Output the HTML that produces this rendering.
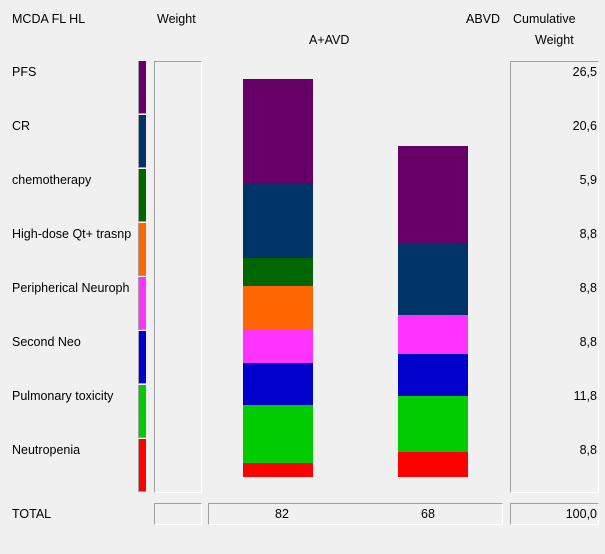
<!DOCTYPE html>
<html><head><meta charset="utf-8"><style>
body{margin:0;width:605px;height:554px;background:#f0f0f0;font-family:"Liberation Sans",sans-serif;font-size:12.5px;color:#000;position:relative;overflow:hidden}
.t{position:absolute;white-space:nowrap}
.box{position:absolute;border-top:1px solid #a0a0a0;border-left:1px solid #a0a0a0;border-bottom:1px solid #fff;border-right:1px solid #fff;box-sizing:border-box}
</style></head><body>
<div class="t" style="left:12px;top:12px">MCDA FL HL</div>
<div class="t" style="left:157px;top:12px">Weight</div>
<div class="t" style="left:309px;top:33px">A+AVD</div>
<div class="t" style="left:466px;top:12px">ABVD</div>
<div class="t" style="left:513px;top:12px">Cumulative</div>
<div class="t" style="left:535px;top:33px">Weight</div>
<div class="box" style="left:154px;top:61px;width:48px;height:432px"></div>
<div class="box" style="left:510px;top:61px;width:89px;height:432px"></div>
<div class="box" style="left:154px;top:503px;width:48px;height:22px"></div>
<div class="box" style="left:208px;top:503px;width:295px;height:22px"></div>
<div class="box" style="left:510px;top:503px;width:89px;height:22px"></div>
<div class="t" style="left:12px;top:507px">TOTAL</div>
<div class="t" style="left:275px;top:507px">82</div>
<div class="t" style="left:421px;top:507px">68</div>
<div class="t" style="right:8px;top:507px">100,0</div>
<div id="root"></div>
<script>
const criteria=["PFS","CR","chemotherapy","High-dose Qt+ trasnp","Peripherical Neuroph","Second Neo","Pulmonary toxicity","Neutropenia"];
const weights=["26,5","20,6","5,9","8,8","8,8","8,8","11,8","8,8"];
const colors=["#660066","#003366","#006600","#ff6600","#ff33ff","#0000cc","#00cc00","#ff0000"];
const aavd=[21.6,15.2,5.8,8.9,7.0,8.7,11.9,2.9];
const abvd=[20.2,14.6,0,0,8.0,8.7,11.5,5.2];
const root=document.getElementById('root');
const baseY=477, pxPer=398/82;
function y(v){return v*pxPer;}
criteria.forEach((c,i)=>{
  const top=61+i*54;
  const l=document.createElement('div');l.className='t';l.style.left='12px';l.style.top=(top+4)+'px';l.textContent=c;
  
  
  root.appendChild(l);
  const w=document.createElement('div');w.className='t';w.style.right='8px';w.style.top=(top+4)+'px';w.textContent=weights[i];
  
  
  root.appendChild(w);
  const s=document.createElement('div');s.style.cssText=`position:absolute;left:138px;top:${top}px;width:8px;height:53px;background:${colors[i]};border-left:1px solid #a0a0a0;border-bottom:1px solid #a0a0a0;box-sizing:border-box`;
  
  
  root.appendChild(s);
});
function stack(vals,x,name){
  let cum=vals.reduce((a,b)=>a+b,0);
  let yy=baseY-y(cum);
  vals.forEach((v,i)=>{
    if(v<=0)return;
    const h=y(v);
    const b=document.createElement('div');
    b.style.cssText=`position:absolute;left:${x}px;top:${yy}px;width:70px;height:${h+0.5}px;background:${colors[i]}`;
    
    
    root.appendChild(b);
    yy+=h;
  });
}
stack(aavd,243,'aavd-bar');
stack(abvd,398,'abvd-bar');
</script>
</body></html>
